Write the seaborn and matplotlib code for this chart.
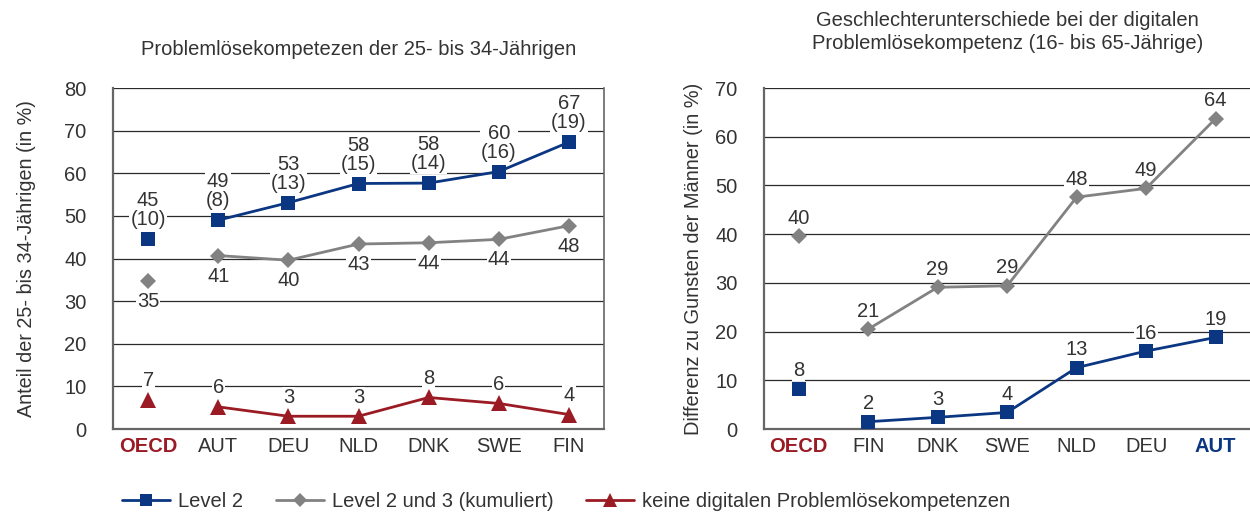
import matplotlib
matplotlib.use("Agg")
import matplotlib.pyplot as plt
import seaborn as sns
import numpy as np
from matplotlib.lines import Line2D

# left chart: 25- to 34-year-olds
left_cats = ["OECD", "AUT", "DEU", "NLD", "DNK", "SWE", "FIN"]
left_level2 = [44.6, 49.0, 53.1, 57.6, 57.7, 60.4, 67.3]
left_level2_lbl = ["45\n(10)", "49\n(8)", "53\n(13)", "58\n(15)", "58\n(14)", "60\n(16)", "67\n(19)"]
left_level23 = [34.8, 40.7, 39.6, 43.4, 43.7, 44.5, 47.7]
left_level23_lbl = ["35", "41", "40", "43", "44", "44", "48"]
left_none = [6.9, 5.2, 3.0, 3.0, 7.4, 6.0, 3.4]
left_none_lbl = ["7", "6", "3", "3", "8", "6", "4"]

# right chart: gender differences
right_cats = ["OECD", "FIN", "DNK", "SWE", "NLD", "DEU", "AUT"]
right_level2 = [8.3, 1.5, 2.4, 3.4, 12.6, 16.0, 18.8]
right_level2_lbl = ["8", "2", "3", "4", "13", "16", "19"]
right_level23 = [39.6, 20.5, 29.1, 29.4, 47.6, 49.4, 63.7]
right_level23_lbl = ["40", "21", "29", "29", "48", "49", "64"]

BLUE = "#0b3682"
GREY = "#828282"
RED = "#9b1b24"
TXT = "#333333"

sns.set_style("white")
plt.rcParams["font.family"] = ["Liberation Sans", "DejaVu Sans"]

fig = plt.figure(figsize=(12.5, 5.13), dpi=100)
ax1 = fig.add_axes([0.0904, 0.1637, 0.3928, 0.6647])
ax2 = fig.add_axes([0.6112, 0.1637, 0.3890, 0.6647])


def draw_series(ax, vals, color, marker, ms):
    pos = np.arange(len(vals))
    # OECD point stands alone, the countries are connected
    sns.lineplot(x=pos[:1], y=vals[:1], ax=ax, color=color, marker=marker,
                 markersize=ms, markeredgewidth=0, linewidth=0, zorder=5)
    sns.lineplot(x=pos[1:], y=vals[1:], ax=ax, color=color, marker=marker,
                 markersize=ms, markeredgewidth=0, linewidth=2, zorder=5)


def label_series(ax, vals, labels, dy):
    for i, (v, t) in enumerate(zip(vals, labels)):
        ax.annotate(t, (i, v), xytext=(0, dy), textcoords="offset points",
                    ha="center", va="bottom" if dy > 0 else "top",
                    fontsize=14.5, color=TXT, linespacing=1.0, zorder=4,
                    bbox=dict(boxstyle="square,pad=0.05", fc="white", ec="none"))


def style_axis(ax, cats, ymax, special, special_color, right_spine):
    ax.set_xlim(-0.5, 6.5)
    ax.set_ylim(0, ymax)
    ax.set_yticks(np.arange(0, ymax + 1, 10))
    ax.yaxis.grid(True, color="#2a2a2a", linewidth=0.9, zorder=0)
    ax.set_axisbelow(True)
    ax.set_xticks(np.arange(len(cats)))
    ax.set_xticklabels(cats)
    ax.set_xticks(np.arange(-0.5, 7, 1), minor=True)
    ax.tick_params(axis="x", which="major", length=0, pad=6, labelsize=14.5, labelcolor=TXT)
    ax.tick_params(axis="x", which="minor", length=9, width=1.2, color="#444444", direction="out")
    ax.tick_params(axis="y", length=13, width=1, color="#999999", labelsize=14.5,
                   labelcolor=TXT, pad=6)
    for lbl in ax.get_xticklabels():
        if lbl.get_text() == special:
            lbl.set_color(special_color)
            lbl.set_fontweight("bold")
    for s in ["left", "bottom"]:
        ax.spines[s].set_color("#666666")
        ax.spines[s].set_linewidth(1.6)
    ax.spines["top"].set_visible(False)
    ax.spines["right"].set_visible(right_spine)
    ax.spines["right"].set_color("#666666")
    ax.spines["right"].set_linewidth(1.2)


# left
draw_series(ax1, left_level2, BLUE, "s", 10)
draw_series(ax1, left_level23, GREY, "D", 8.5)
draw_series(ax1, left_none, RED, "^", 11)
style_axis(ax1, left_cats, 80, "OECD", RED, True)
label_series(ax1, left_level2, left_level2_lbl, 7)
label_series(ax1, left_level23, left_level23_lbl, -8)
label_series(ax1, left_none, left_none_lbl, 7)
ax1.set_ylabel("Anteil der 25- bis 34-Jährigen (in %)", fontsize=14.2, color=TXT, labelpad=20)
ax1.set_title("Problemlösekompetezen der 25- bis 34-Jährigen", fontsize=14.5, color=TXT, pad=24)

# right
draw_series(ax2, right_level2, BLUE, "s", 10)
draw_series(ax2, right_level23, GREY, "D", 8.5)
style_axis(ax2, right_cats, 70, "OECD", RED, False)
for lbl in ax2.get_xticklabels():
    if lbl.get_text() == "AUT":
        lbl.set_color(BLUE)
        lbl.set_fontweight("bold")
label_series(ax2, right_level2, right_level2_lbl, 6)
label_series(ax2, right_level23, right_level23_lbl, 6)
ax2.set_ylabel("Differenz zu Gunsten der Männer (in %)", fontsize=14.4, color=TXT, labelpad=9)
ax2.set_title("Geschlechterunterschiede bei der digitalen\nProblemlösekompetenz (16- bis 65-Jährige)",
              fontsize=14.5, color=TXT, pad=28, x=0.5, linespacing=1.3)

handles = [
    Line2D([], [], color=BLUE, marker="s", markersize=8, linewidth=2, markeredgewidth=0),
    Line2D([], [], color=GREY, marker="D", markersize=7, linewidth=2, markeredgewidth=0),
    Line2D([], [], color=RED, marker="^", markersize=10, linewidth=2, markeredgewidth=0),
]
names = ["Level 2", "Level 2 und 3 (kumuliert)", "keine digitalen Problemlösekompetenzen"]
fig.legend(handles, names, loc="center", bbox_to_anchor=(0.453, 0.022), ncol=3,
           frameon=False, fontsize=14.5, handlelength=2.4, columnspacing=1.6,
           handletextpad=0.4, labelcolor=TXT)

fig.savefig("out.png", dpi=100)
